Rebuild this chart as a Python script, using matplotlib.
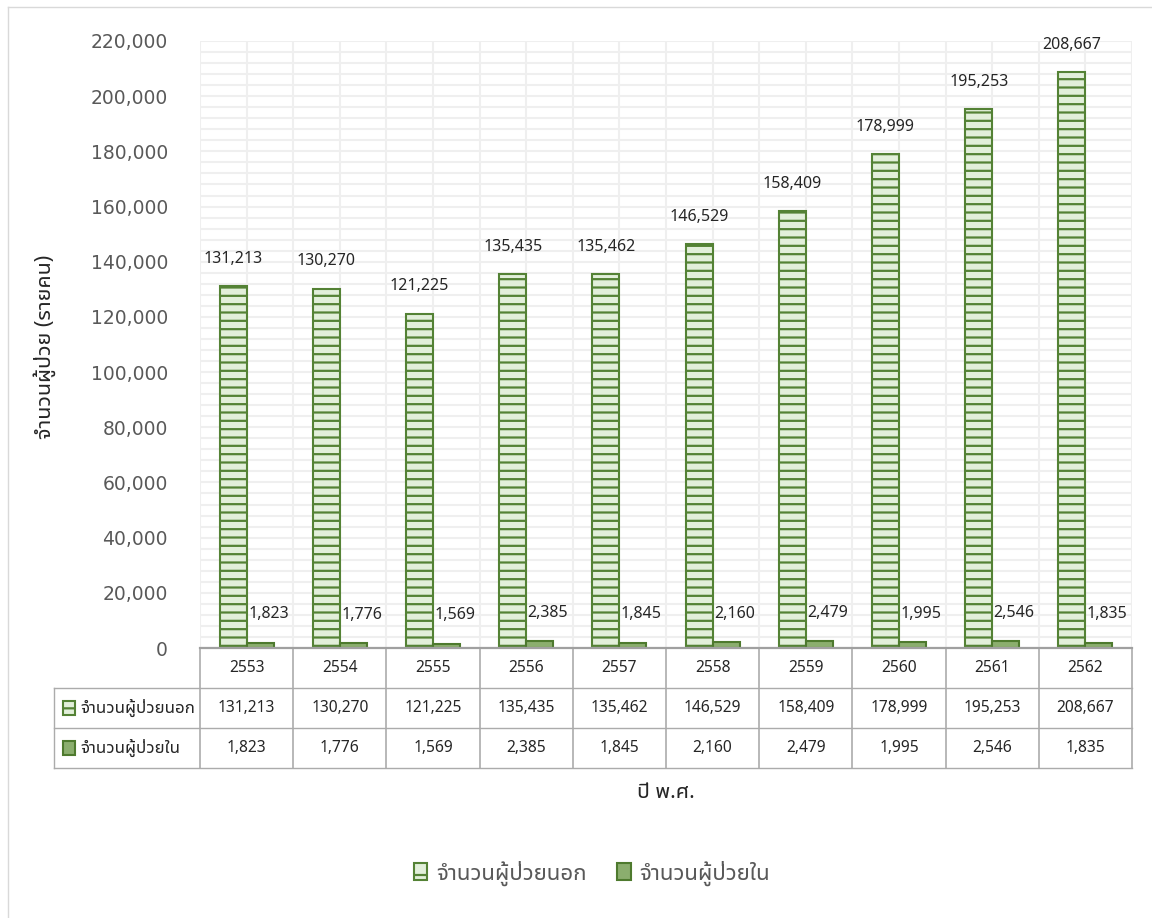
import subprocess
import numpy as np
import matplotlib
matplotlib.use('Agg')
import matplotlib.pyplot as plt
from matplotlib import font_manager as fm
from matplotlib.patches import Patch, Rectangle
from matplotlib.lines import Line2D
import matplotlib.transforms as mtransforms

# ---------------- data ----------------
years = ['2553', '2554', '2555', '2556', '2557', '2558', '2559', '2560', '2561', '2562']
outpatients = [131213, 130270, 121225, 135435, 135462, 146529, 158409, 178999, 195253, 208667]
inpatients = [1823, 1776, 1569, 2385, 1845, 2160, 2479, 1995, 2546, 1835]
series_names = ['จำนวนผู้ป่วยนอก', 'จำนวนผู้ป่วยใน']
y_label = 'จำนวนผู้ป่วย (รายคน)'
x_label = 'ปี พ.ศ.'
y_ticks = list(range(0, 220001, 20000))


# ---------------- fonts ----------------
def find_thai_font():
    try:
        out = subprocess.run(['fc-list', ':lang=th', 'file'], capture_output=True,
                             text=True, timeout=20).stdout
        for line in out.splitlines():
            path = line.split(':')[0].strip()
            if path:
                try:
                    fm.fontManager.addfont(path)
                except Exception:
                    pass
    except Exception:
        pass
    found = {}
    try:
        from fontTools.ttLib import TTFont
        for f in fm.fontManager.ttflist:
            if f.name in found:
                continue
            try:
                tt = TTFont(f.fname, fontNumber=0, lazy=True)
                cmap = tt.getBestCmap()
                if cmap and 0x0E08 in cmap and 0x0E1C in cmap:
                    found[f.name] = f.fname
            except Exception:
                pass
    except Exception:
        pass
    preferred = ['Tahoma', 'Leelawadee UI', 'Leelawadee', 'Noto Sans Thai UI', 'Noto Sans Thai',
                 'Loma', 'Garuda', 'Sarabun', 'TH Sarabun New', 'Waree', 'Norasi']
    for p in preferred:
        if p in found:
            return p
    return next(iter(found)) if found else None


thai_font = find_thai_font()
families = ([thai_font] if thai_font else []) + ['Noto Sans', 'DejaVu Sans']
plt.rcParams['font.family'] = families
plt.rcParams['hatch.linewidth'] = 1.6
plt.rcParams['hatch.color'] = '#548235'

W, H = 1152, 918
fig = plt.figure(figsize=(W / 100, H / 100), dpi=100)


def fx(px):
    return px / W


def fy(py):
    return 1 - py / H


ax = fig.add_axes([fx(200), fy(648), fx(1132) - fx(200), fy(41) - fy(648)])
x = np.arange(len(years))
w = 0.29

out_face, out_edge = '#E2EFDA', '#548235'
in_face, in_edge = '#8BAE6E', '#4E7A2E'

ax.bar(x - w / 2, outpatients, w, facecolor=out_face, edgecolor=out_edge,
       hatch='--', linewidth=1.5, zorder=3)
ax.bar(x + w / 2, inpatients, w, facecolor=in_face, edgecolor=in_edge,
       linewidth=1.5, zorder=3)

ax.set_xlim(-0.5, len(years) - 0.5)
ax.set_ylim(0, 220000)
ax.set_yticks(y_ticks)
ax.set_yticks(list(range(0, 220001, 4000)), minor=True)
ax.set_yticklabels([f'{t:,}' for t in y_ticks])
ax.set_xticks(np.arange(-0.5, len(years), 1))
ax.set_xticks(x, minor=True)
ax.set_xticklabels([])
ax.tick_params(axis='both', which='both', length=0)
ax.tick_params(axis='y', pad=23, labelsize=13.5, labelcolor='#595959')
for lbl in ax.get_yticklabels():
    lbl.set_family(['DejaVu Sans'])
ax.grid(True, which='both', color='#EFEFEF', linewidth=1.5, zorder=0)
ax.set_axisbelow(True)
for s in ax.spines.values():
    s.set_visible(False)

for xi, v in zip(x, outpatients):
    ax.annotate(f'{v:,}', (xi - w / 2, v), xytext=(0, 19.5), textcoords='offset points',
                ha='center', va='center', fontsize=11.5, color='#262626', zorder=5)
for xi, v in zip(x, inpatients):
    ax.annotate(f'{v:,}', (xi + w / 2, v), xytext=(6, 20.5), textcoords='offset points',
                ha='center', va='center', fontsize=11.5, color='#262626', zorder=5)

# ---------------- data table ----------------
grid_c = '#ABABAB'
row_top, row_h = 648, 40
for k in (1, 2, 3):
    yy = row_top + k * row_h
    fig.add_artist(Line2D([fx(54), fx(1132)], [fy(yy), fy(yy)], color=grid_c, lw=1.0))
fig.add_artist(Line2D([fx(54), fx(54)], [fy(row_top + row_h), fy(row_top + 3 * row_h)],
                      color=grid_c, lw=1.0))
blend = mtransforms.blended_transform_factory(ax.transData, fig.transFigure)
for b in np.arange(-0.5, len(years) + 0.5, 1):
    fig.add_artist(Line2D([b, b], [fy(row_top), fy(row_top + 3 * row_h)], color=grid_c, lw=1.2,
                          transform=blend))
fig.add_artist(Line2D([fx(200), fx(1132)], [fy(row_top), fy(row_top)], color='#A0A0A0', lw=1.6))

for xi, yr, o, i in zip(x, years, outpatients, inpatients):
    fig.text(xi, fy(row_top + row_h * 0.5), yr, transform=blend, ha='center', va='center',
             fontsize=11.2, color='#262626')
    fig.text(xi, fy(row_top + row_h * 1.5), f'{o:,}', transform=blend, ha='center', va='center',
             fontsize=11.2, color='#262626')
    fig.text(xi, fy(row_top + row_h * 2.5), f'{i:,}', transform=blend, ha='center', va='center',
             fontsize=11.2, color='#262626')

key_styles = [dict(facecolor=out_face, edgecolor=out_edge, hatch='-', lw=1.5),
              dict(facecolor=in_face, edgecolor=in_edge, lw=1.5)]
for r, (name, st) in enumerate(zip(series_names, key_styles)):
    cy = row_top + row_h * (1.5 + r)
    fig.add_artist(Rectangle((fx(63), fy(cy + 7)), fx(12), fy(cy - 7) - fy(cy + 7),
                             transform=fig.transFigure, **st))
    fig.text(fx(80), fy(cy), name, ha='left', va='center', fontsize=12.2, color='#262626')

# ---------------- labels ----------------
fig.text(fx(45), fy(347), y_label, rotation=90, ha='center', va='center',
         fontsize=15.5, color='#262626')
fig.text(fx(666), fy(793), x_label, ha='center', va='center', fontsize=15.3, color='#262626')

handles = [Patch(facecolor=out_face, edgecolor=out_edge, hatch='-', lw=1.5),
           Patch(facecolor=in_face, edgecolor=in_edge, lw=1.5)]
leg = fig.legend(handles, series_names, loc='center', bbox_to_anchor=(fx(592), fy(873)),
                 ncol=2, frameon=False, fontsize=16, handlelength=0.6, handleheight=0.75,
                 columnspacing=1.4, handletextpad=0.4)
for t in leg.get_texts():
    t.set_color('#595959')

fig.add_artist(Line2D([fx(8), fx(8)], [fy(7), 0], color='#D9D9D9', lw=1.0))
fig.add_artist(Line2D([fx(8), 1], [fy(7), fy(7)], color='#D9D9D9', lw=1.0))

fig.savefig('out.png', dpi=100)
